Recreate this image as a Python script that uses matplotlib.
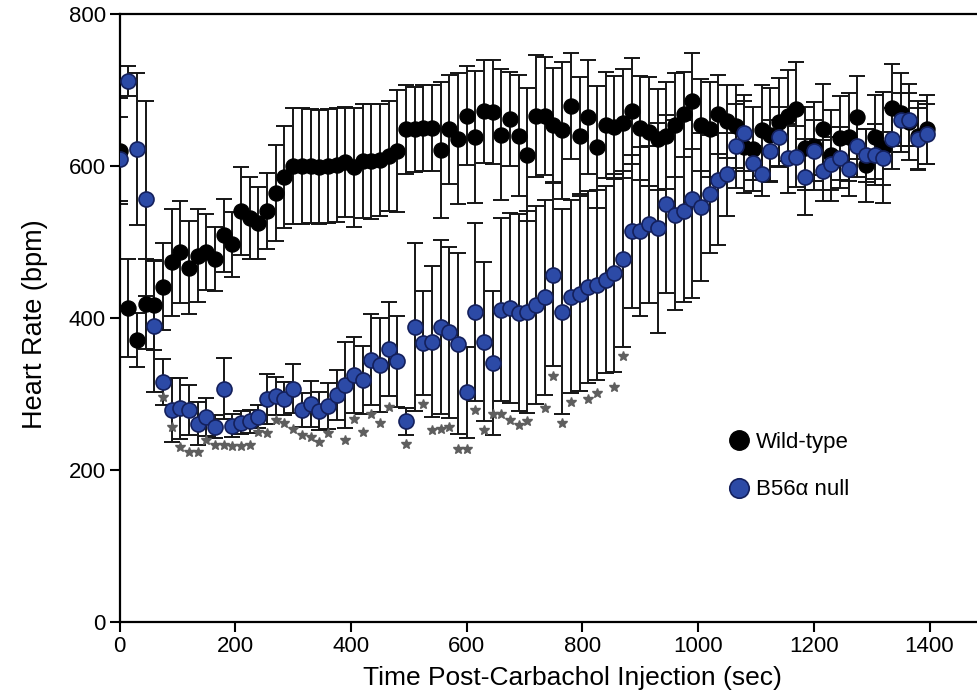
import matplotlib
matplotlib.use("Agg")
import matplotlib.pyplot as plt
from matplotlib.lines import Line2D

plt.rcParams['font.family'] = ['Liberation Sans', 'DejaVu Sans']

# time points (sec), sampled every 15 s
time = list(range(0, 1410, 15))

wt_mean = [620, 413, 371, 418, 417, 441, 473, 487, 466, 482,
           487, 478, 509, 497, 541, 532, 525, 541, 564, 585,
           600, 600, 600, 598, 600, 601, 605, 598, 607, 606,
           608, 613, 620, 648, 648, 650, 650, 621, 648, 636,
           666, 638, 672, 671, 641, 662, 640, 615, 666, 666,
           654, 647, 679, 640, 665, 625, 654, 651, 656, 672,
           650, 645, 635, 640, 654, 668, 685, 654, 648, 668,
           659, 652, 625, 622, 647, 641, 658, 666, 675, 623,
           626, 648, 614, 637, 638, 664, 601, 638, 624, 676,
           670, 658, 640, 648]
wt_err = [70, 65, 35, 59, 59, 57, 70, 67, 61, 61,
          50, 42, 48, 43, 58, 54, 47, 50, 63, 67,
          76, 76, 75, 75, 75, 75, 72, 78, 75, 76,
          74, 72, 80, 58, 56, 56, 56, 90, 72, 86,
          65, 87, 68, 68, 86, 62, 80, 88, 80, 78,
          75, 90, 70, 77, 75, 80, 70, 68, 72, 70,
          68, 72, 66, 70, 68, 56, 63, 60, 62, 52,
          48, 55, 60, 55, 60, 62, 58, 60, 62, 55,
          58, 60, 60, 55, 58, 55, 48, 55, 73, 58,
          52, 50, 45, 45]

ko_mean = [609, 712, 622, 557, 389, 316, 279, 281, 279, 261,
           270, 257, 307, 258, 262, 264, 270, 293, 297, 294,
           307, 279, 287, 277, 284, 299, 312, 325, 318, 345,
           338, 359, 343, 264, 388, 367, 369, 388, 381, 366,
           302, 408, 369, 341, 411, 413, 407, 408, 417, 427,
           457, 408, 428, 432, 441, 443, 450, 459, 478, 514,
           514, 523, 518, 550, 536, 541, 556, 546, 563, 581,
           589, 626, 643, 604, 590, 620, 638, 610, 612, 586,
           620, 594, 603, 611, 596, 626, 614, 615, 610, 636,
           661, 661, 636, 642]
ko_err = [55, 20, 100, 128, 86, 30, 42, 40, 33, 28,
          25, 15, 40, 15, 15, 15, 15, 33, 25, 22,
          32, 22, 30, 25, 30, 33, 57, 50, 45, 60,
          62, 62, 60, 18, 110, 68, 99, 115, 113, 119,
          60, 117, 104, 95, 120, 125, 130, 133, 130, 128,
          120, 135, 127, 128, 126, 125, 123, 130, 116, 101,
          111, 103, 138, 117, 125, 120, 130, 97, 78, 85,
          55, 55, 50, 22, 30, 40, 40, 45, 40, 50,
          40, 40, 35, 40, 35, 40, 35, 40, 35, 40,
          35, 35, 40, 40]

# significance markers (index into time, y position of the star)
star_idx = [5, 6, 7, 8, 9, 10, 11, 12, 13, 14, 15, 16, 17, 18, 19, 20, 21, 22, 23, 24,
            26, 27, 28, 29, 30, 31, 33, 35, 36, 37, 38, 39, 40, 41, 42, 43, 44, 45, 46, 47,
            49, 50, 51, 52, 54, 55, 57, 58]
star_y = [296, 257, 230, 224, 224, 239, 233, 233, 232, 232, 233, 250, 248, 266, 262, 254,
          246, 243, 237, 248, 240, 267, 250, 273, 262, 283, 234, 287, 253, 254, 257, 228,
          228, 279, 253, 273, 273, 266, 259, 264, 281, 324, 262, 290, 294, 301, 309, 350]

labels = ["Wild-type", "B56\u03b1 null"]
blue_fill = "#2c4aa6"
blue_edge = "#14205c"

fig = plt.figure(figsize=(9.77, 6.98), dpi=100)
ax = fig.add_axes([0.1224, 0.1089, 0.8776, 0.8711])

ax.errorbar(time, wt_mean, yerr=wt_err, fmt='none', ecolor='#151515',
            elinewidth=1.4, capsize=6, capthick=1.4, zorder=1)
ax.errorbar(time, ko_mean, yerr=ko_err, fmt='none', ecolor='#151515',
            elinewidth=1.4, capsize=6, capthick=1.4, zorder=1)
ax.plot(time, wt_mean, linestyle='none', marker='o', markersize=10.8,
        markerfacecolor='black', markeredgecolor='black', zorder=3)
ax.plot(time, ko_mean, linestyle='none', marker='o', markersize=10.8,
        markerfacecolor=blue_fill, markeredgecolor=blue_edge,
        markeredgewidth=1.2, zorder=4)
ax.plot([time[i] for i in star_idx], star_y, linestyle='none', marker='*',
        markersize=7, color='#5e5e5e', zorder=2)

ax.set_xlim(0, 1482)
ax.set_ylim(0, 800)
ax.set_xticks([0, 200, 400, 600, 800, 1000, 1200, 1400])
ax.set_yticks([0, 200, 400, 600, 800])
ax.tick_params(axis='both', direction='out', length=7, width=1.5,
               labelsize=16, pad=3)
for side in ['left', 'bottom', 'top']:
    ax.spines[side].set_linewidth(1.6)
ax.spines['right'].set_visible(False)

ax.set_xlabel("Time Post-Carbachol Injection (sec)", fontsize=19)
ax.xaxis.set_label_coords(0.5277, -0.073)
ax.set_ylabel("Heart Rate (bpm)", fontsize=19.5)
ax.yaxis.set_label_coords(-0.0835, 0.489)

handles = [
    Line2D([], [], linestyle='none', marker='o', markersize=14,
           markerfacecolor='black', markeredgecolor='black'),
    Line2D([], [], linestyle='none', marker='o', markersize=14,
           markerfacecolor=blue_fill, markeredgecolor=blue_edge, markeredgewidth=1.2),
]
ax.legend(handles, labels, loc='center left', bbox_to_anchor=(0.696, 0.2566),
          frameon=False, fontsize=16, handlelength=1.0, handletextpad=0.3,
          labelspacing=1.2, borderpad=0)

fig.savefig("out.png", dpi=100)
